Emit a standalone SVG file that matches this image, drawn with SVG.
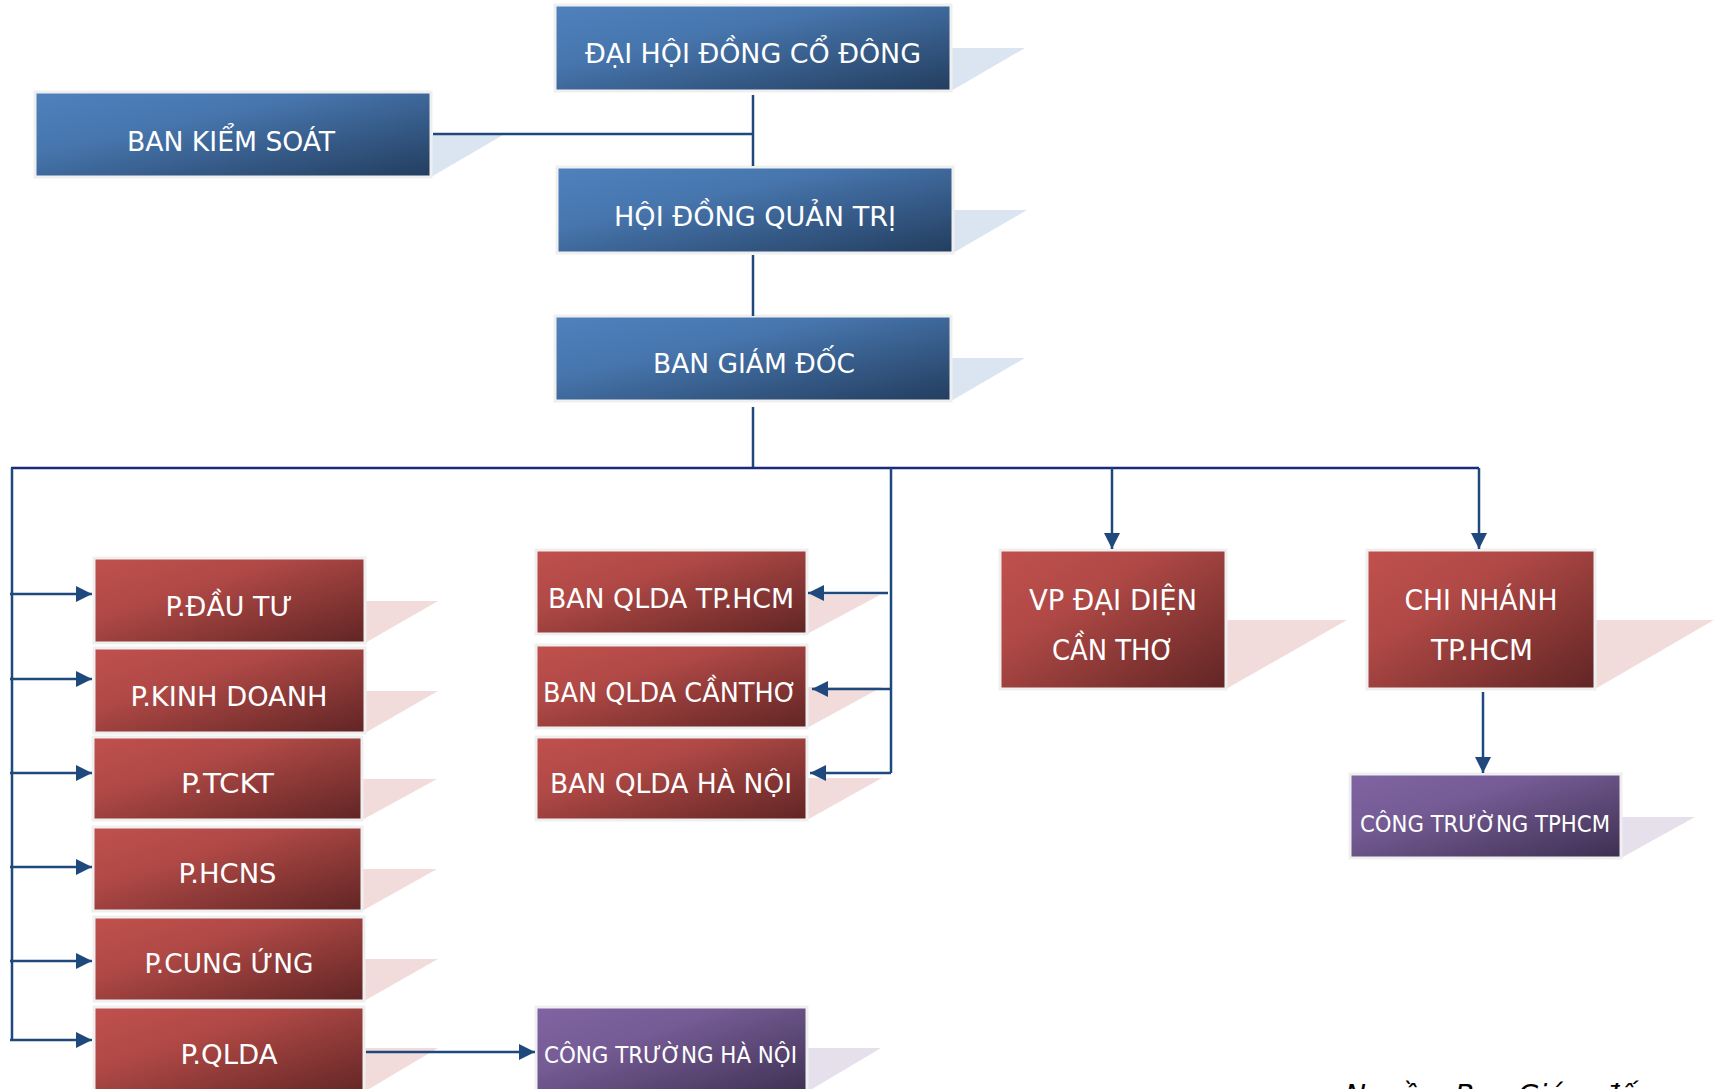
<svg xmlns="http://www.w3.org/2000/svg" width="1714" height="1089" viewBox="0 0 1714 1089">
<defs>
<linearGradient id="gBlue" x1="0" y1="0" x2="1" y2="1">
<stop offset="0" stop-color="#4f81bd"/><stop offset="0.35" stop-color="#4776ae"/><stop offset="1" stop-color="#233d5e"/>
</linearGradient>
<linearGradient id="gRed" x1="0" y1="0" x2="1" y2="1">
<stop offset="0" stop-color="#c0504d"/><stop offset="0.35" stop-color="#b04946"/><stop offset="1" stop-color="#602524"/>
</linearGradient>
<linearGradient id="gPur" x1="0" y1="0" x2="1" y2="1">
<stop offset="0" stop-color="#8064a2"/><stop offset="0.35" stop-color="#755c95"/><stop offset="1" stop-color="#3d2f50"/>
</linearGradient>
<marker id="arr" markerUnits="userSpaceOnUse" markerWidth="18" markerHeight="16" refX="16" refY="8" orient="auto">
<path d="M0,0 L16,8 L0,16 Z" fill="#1f497d"/>
</marker>
</defs>
<style>
.bx{stroke:#efefef;stroke-width:3}
.b{fill:url(#gBlue)} .r{fill:url(#gRed)} .p{fill:url(#gPur)}
.sb{fill:#dbe5f1} .sr{fill:#f2dcdb} .sp{fill:#e5e0ec}
.t{font-family:"DejaVu Sans Condensed","DejaVu Sans",sans-serif;font-size:27px;fill:#ffffff;text-anchor:middle}
.ts{font-size:23px}
.tb{font-size:29px}
.c{fill:none;stroke:#1f497d;stroke-width:2.5}
.bus{fill:none;stroke:#1a2a7c;stroke-width:2.5}
</style>

<g id="dai-hoi-dong-co-dong">
<polygon class="sb" points="951,48 1025,48 951,91"/>
<rect class="bx b" x="555" y="5" width="396" height="86"/>
<text class="t" x="753" y="63" textLength="336" lengthAdjust="spacingAndGlyphs">ĐẠI HỘI ĐỒNG CỔ ĐÔNG</text>
</g>

<g id="ban-kiem-soat">
<polygon class="sb" points="431,135 503,135 431,177"/>
<rect class="bx b" x="35" y="92" width="396" height="85"/>
<text class="t" x="231" y="151" textLength="208" lengthAdjust="spacingAndGlyphs">BAN KIỂM SOÁT</text>
</g>

<g id="hoi-dong-quan-tri">
<polygon class="sb" points="953,210 1027,210 953,253"/>
<rect class="bx b" x="557" y="167" width="396" height="86"/>
<text class="t" x="755" y="226" textLength="282" lengthAdjust="spacingAndGlyphs">HỘI ĐỒNG QUẢN TRỊ</text>
</g>

<g id="ban-giam-doc">
<polygon class="sb" points="951,358 1025,358 951,401"/>
<rect class="bx b" x="555" y="316" width="396" height="85"/>
<text class="t" x="754" y="373" textLength="202" lengthAdjust="spacingAndGlyphs">BAN GIÁM ĐỐC</text>
</g>

<g id="p-dau-tu">
<polygon class="sr" points="365,601 438,601 365,643"/>
<rect class="bx r" x="94" y="558" width="271" height="85"/>
<text class="t" x="229" y="616" textLength="127" lengthAdjust="spacingAndGlyphs">P.ĐẦU TƯ</text>
</g>

<g id="p-kinh-doanh">
<polygon class="sr" points="365,691 438,691 365,733"/>
<rect class="bx r" x="94" y="648" width="271" height="85"/>
<text class="t" x="229" y="706" textLength="197" lengthAdjust="spacingAndGlyphs">P.KINH DOANH</text>
</g>

<g id="p-tckt">
<polygon class="sr" points="362,779 437,779 362,820"/>
<rect class="bx r" x="93" y="737" width="269" height="83"/>
<text class="t" x="227.5" y="793" textLength="93" lengthAdjust="spacingAndGlyphs">P.TCKT</text>
</g>

<g id="p-hcns">
<polygon class="sr" points="362,869 437,869 362,911"/>
<rect class="bx r" x="93" y="827" width="269" height="84"/>
<text class="t" x="227.5" y="883" textLength="98" lengthAdjust="spacingAndGlyphs">P.HCNS</text>
</g>

<g id="p-cung-ung">
<polygon class="sr" points="364,959 438,959 364,1001"/>
<rect class="bx r" x="94" y="917" width="270" height="84"/>
<text class="t" x="229" y="973" textLength="169" lengthAdjust="spacingAndGlyphs">P.CUNG ỨNG</text>
</g>

<g id="p-qlda">
<polygon class="sr" points="364,1048 438,1048 364,1092"/>
<rect class="bx r" x="94" y="1007" width="270" height="90"/>
<text class="t" x="229" y="1064" textLength="97" lengthAdjust="spacingAndGlyphs">P.QLDA</text>
</g>

<g id="ban-qlda-tphcm">
<polygon class="sr" points="807,595 880,595 807,634"/>
<rect class="bx r" x="536" y="550" width="271" height="84"/>
<text class="t" x="671" y="608" textLength="246" lengthAdjust="spacingAndGlyphs">BAN QLDA TP.HCM</text>
</g>

<g id="ban-qlda-cantho">
<polygon class="sr" points="807,687 882,687 807,728"/>
<rect class="bx r" x="536" y="645" width="271" height="83"/>
<text class="t" x="670" y="702" textLength="254" lengthAdjust="spacingAndGlyphs">BAN QLDA CẦNTHƠ</text>
</g>

<g id="ban-qlda-ha-noi">
<polygon class="sr" points="807,778 882,778 807,820"/>
<rect class="bx r" x="536" y="737" width="271" height="83"/>
<text class="t" x="671" y="793" textLength="242" lengthAdjust="spacingAndGlyphs">BAN QLDA HÀ NỘI</text>
</g>

<g id="cong-truong-ha-noi">
<polygon class="sp" points="807,1048 881,1048 807,1092"/>
<rect class="bx p" x="536" y="1007" width="271" height="90"/>
<text class="t ts" x="670.5" y="1063" textLength="253" lengthAdjust="spacingAndGlyphs">CÔNG TRƯỜNG HÀ NỘI</text>
</g>

<g id="vp-dai-dien-can-tho">
<polygon class="sr" points="1226,620 1347,620 1226,689"/>
<rect class="bx r" x="1000" y="550" width="226" height="139"/>
<text class="t tb" x="1113" y="610" textLength="168" lengthAdjust="spacingAndGlyphs">VP ĐẠI DIỆN</text>
<text class="t tb" x="1113" y="660" textLength="122" lengthAdjust="spacingAndGlyphs">CẦN THƠ</text>
</g>

<g id="chi-nhanh-tphcm">
<polygon class="sr" points="1595,620 1714,620 1595,689"/>
<rect class="bx r" x="1367" y="550" width="228" height="139"/>
<text class="t tb" x="1481" y="610" textLength="153" lengthAdjust="spacingAndGlyphs">CHI NHÁNH</text>
<text class="t tb" x="1482" y="660" textLength="102" lengthAdjust="spacingAndGlyphs">TP.HCM</text>
</g>

<g id="cong-truong-tphcm">
<polygon class="sp" points="1621,817 1695,817 1621,858"/>
<rect class="bx p" x="1350" y="774" width="271" height="84"/>
<text class="t ts" x="1485" y="832" textLength="250" lengthAdjust="spacingAndGlyphs">CÔNG TRƯỜNG TPHCM</text>
</g>

<g id="connectors">
<path class="c" d="M753,95 V166"/>
<path class="c" d="M433,134 H753"/>
<path class="c" d="M753,255 V316"/>
<path class="c" d="M753,407 V468"/>
<path class="bus" d="M11,468 H1479"/>
<path class="c" d="M12,468 V1040"/>
<path class="c" d="M10,594 H92" marker-end="url(#arr)"/>
<path class="c" d="M10,679 H92" marker-end="url(#arr)"/>
<path class="c" d="M10,773 H92" marker-end="url(#arr)"/>
<path class="c" d="M10,867 H92" marker-end="url(#arr)"/>
<path class="c" d="M10,961 H92" marker-end="url(#arr)"/>
<path class="c" d="M10,1040 H92" marker-end="url(#arr)"/>
<path class="c" d="M891,468 V773"/>
<path class="c" d="M888,593 H808" marker-end="url(#arr)"/>
<path class="c" d="M891,689 H812" marker-end="url(#arr)"/>
<path class="c" d="M891,773 H810" marker-end="url(#arr)"/>
<path class="c" d="M1112,468 V549" marker-end="url(#arr)"/>
<path class="c" d="M1479,468 V549" marker-end="url(#arr)"/>
<path class="c" d="M1483,692 V773" marker-end="url(#arr)"/>
<path class="c" d="M366,1052 H535" marker-end="url(#arr)"/>
</g>

<text x="1345" y="1105" font-family="'DejaVu Sans','Liberation Sans',sans-serif" font-style="italic" font-size="28" fill="#000000">Nguồn: Ban Giám đốc</text>
</svg>
